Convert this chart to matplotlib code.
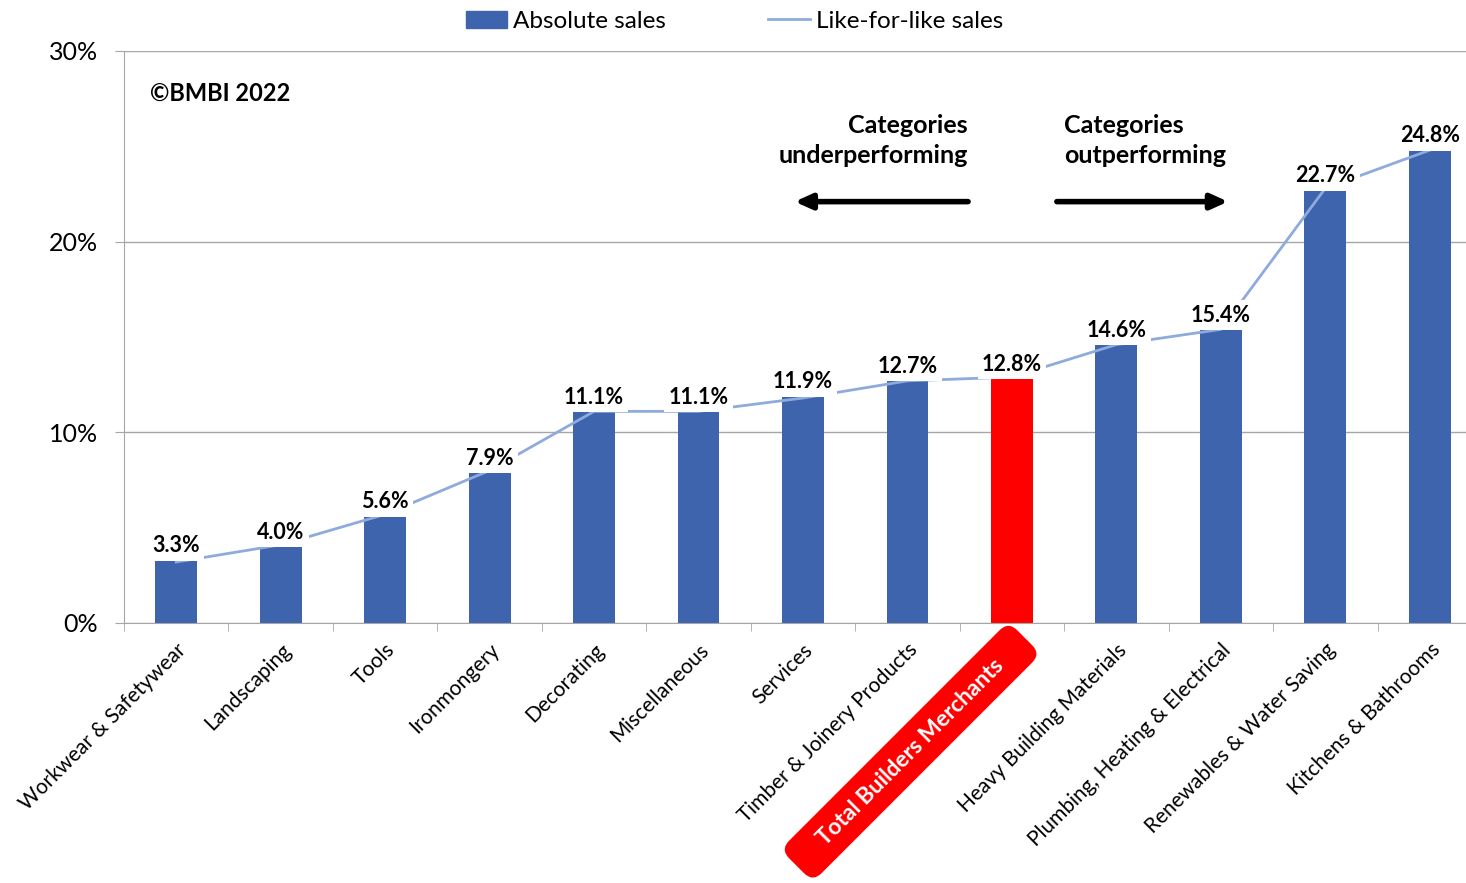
import matplotlib
matplotlib.use("Agg")
import matplotlib.pyplot as plt
import numpy as np
from matplotlib.patches import Patch
from matplotlib.lines import Line2D

plt.rcParams['font.family'] = ['Lato', 'DejaVu Sans']

# data (% growth)
categories = ["Workwear & Safetywear", "Landscaping", "Tools", "Ironmongery", "Decorating",
              "Miscellaneous", "Services", "Timber & Joinery Products", "Total Builders Merchants",
              "Heavy Building Materials", "Plumbing, Heating & Electrical",
              "Renewables & Water Saving", "Kitchens & Bathrooms"]
absolute = [3.3, 4.0, 5.6, 7.9, 11.1, 11.1, 11.9, 12.7, 12.8, 14.6, 15.4, 22.7, 24.8]
like_for_like = [3.2, 4.1, 5.7, 8.0, 11.1, 11.1, 11.8, 12.7, 12.9, 14.6, 15.4, 22.8, 24.8]
total_idx = 8

blue = '#3D64AD'
red = '#FF0000'
lfl_col = '#8FAADC'
grid_col = '#A6A6A6'

fig = plt.figure(figsize=(14.66, 8.83), dpi=100)
ax = fig.add_axes([124/1466, 1-623/883, 1358/1466, 572/883])

x = np.arange(len(categories))
colors = [red if i == total_idx else blue for i in x]
ax.bar(x, absolute, width=0.40, color=colors, zorder=2)
ax.plot(x, like_for_like, color=lfl_col, lw=2, zorder=3)

# data labels with white background (cuts the line like in the original)
for xi, v in zip(x, absolute):
    ax.text(xi, v + 0.2, f"{v:.1f}%", ha='center', va='bottom', fontsize=15.5,
            fontweight='bold', zorder=4,
            bbox=dict(boxstyle='square,pad=0.2', fc='white', ec='none'))

ax.set_xlim(-0.5, len(categories) - 0.5)
ax.set_ylim(0, 30)
ax.set_yticks([0, 10, 20, 30])
ax.set_yticklabels(["0%", "10%", "20%", "30%"], fontsize=18)
ax.yaxis.grid(True, color=grid_col, lw=1, zorder=0)
ax.set_axisbelow(True)
ax.tick_params(axis='y', length=6.5, color=grid_col, pad=12)

for s in ['top', 'right']:
    ax.spines[s].set_visible(False)
ax.spines['left'].set_color(grid_col)
ax.spines['bottom'].set_color(grid_col)

# category ticks at boundaries, labels at centres
ax.set_xticks(np.arange(-0.5, len(categories) + 0.5, 1), minor=True)
ax.tick_params(axis='x', which='minor', length=6, color=grid_col)
ax.set_xticks(x)
ticklabels = [c if i != total_idx else "" for i, c in enumerate(categories)]
ax.set_xticklabels(ticklabels, rotation=45, ha='right', va='top', rotation_mode='anchor',
                   fontsize=15)
ax.tick_params(axis='x', which='major', length=0, pad=12)

# highlighted total label
ax.text(7.03, -6.75, "    Total Builders Merchants    ", rotation=45, ha='center', va='center',
        rotation_mode='anchor', fontsize=16.3, fontweight='bold', color='white',
        bbox=dict(boxstyle='round,pad=0.55,rounding_size=0.55', fc=red, ec='none'),
        clip_on=False)

# annotations
ax.text(-0.25, 27.8, "©BMBI 2022", fontsize=17, fontweight='bold', va='center', ha='left')
ax.text(7.58, 25.3, "Categories\nunderperforming", fontsize=18, fontweight='bold',
        ha='right', va='center', linespacing=1.4)
ax.text(8.5, 25.3, "Categories\noutperforming", fontsize=18, fontweight='bold',
        ha='left', va='center', linespacing=1.4)
ax.annotate("", xy=(5.92, 22.1), xytext=(7.58, 22.1),
            arrowprops=dict(arrowstyle='-|>,head_length=1.0,head_width=0.45', lw=4,
                            color='black', shrinkA=0, shrinkB=0))
ax.annotate("", xy=(10.07, 22.1), xytext=(8.43, 22.1),
            arrowprops=dict(arrowstyle='-|>,head_length=1.0,head_width=0.45', lw=4,
                            color='black', shrinkA=0, shrinkB=0))

# legend
handles = [Patch(color=blue, label="Absolute sales"),
           Line2D([0], [0], color=lfl_col, lw=2, label="Like-for-like sales")]
fig.legend(handles=handles, loc='center', bbox_to_anchor=(0.501, 0.976), ncol=2,
           frameon=False, fontsize=17.5, columnspacing=4.2, handlelength=1.7,
           handletextpad=0.25)

fig.savefig("out.png", dpi=100)
